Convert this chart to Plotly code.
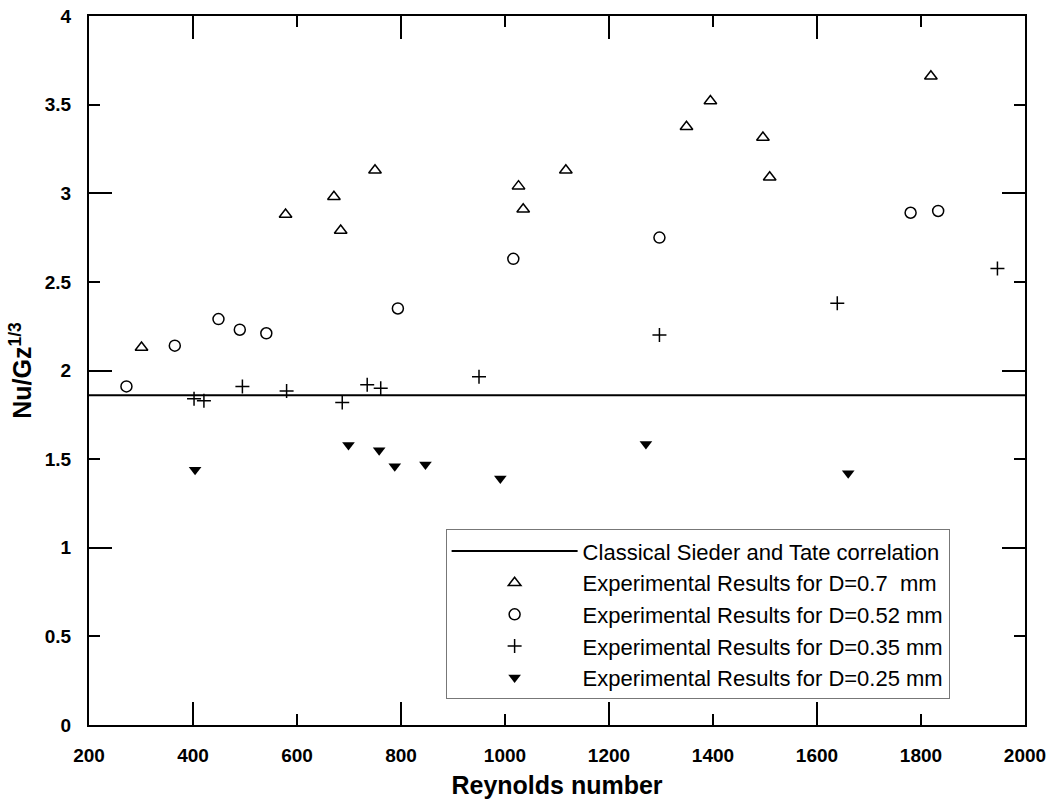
import plotly.graph_objects as go

# ---- data ----
re_line = [200, 2000]
nu_line = [1.86, 1.86]

re_d070 = [301, 578, 671, 684, 750, 1026, 1035, 1117, 1349, 1395, 1496, 1509, 1819]
nu_d070 = [2.13, 2.88, 2.98, 2.79, 3.13, 3.04, 2.91, 3.13, 3.375, 3.52, 3.315, 3.09, 3.66]

re_d052 = [272, 365, 449, 490, 541, 794, 1016, 1297, 1780, 1833]
nu_d052 = [1.91, 2.14, 2.29, 2.23, 2.21, 2.35, 2.63, 2.75, 2.89, 2.90]

re_d035 = [402, 421, 495, 580, 687, 735, 761, 950, 1297, 1639, 1947]
nu_d035 = [1.84, 1.83, 1.91, 1.885, 1.82, 1.92, 1.90, 1.965, 2.20, 2.38, 2.575]

re_d025 = [404, 699, 758, 788, 847, 991, 1271, 1660]
nu_d025 = [1.44, 1.58, 1.55, 1.46, 1.47, 1.39, 1.585, 1.42]

x_ticks = list(range(200, 2001, 200))
y_ticks = [0, 0.5, 1, 1.5, 2, 2.5, 3, 3.5, 4]

FONT = "Liberation Sans, Arial, sans-serif"

fig = go.Figure()
fig.add_trace(go.Scatter(x=re_line, y=nu_line, mode="lines",
                         name="Classical Sieder and Tate correlation",
                         line=dict(color="black", width=2)))
fig.add_trace(go.Scatter(x=re_d070, y=nu_d070, mode="markers",
                         name="Experimental Results for D=0.7  mm",
                         marker=dict(symbol="triangle-up-open", size=11, color="black",
                                     line=dict(width=1.5, color="black"))))
fig.add_trace(go.Scatter(x=re_d052, y=nu_d052, mode="markers",
                         name="Experimental Results for D=0.52 mm",
                         marker=dict(symbol="circle-open", size=11, color="black",
                                     line=dict(width=1.5, color="black"))))
fig.add_trace(go.Scatter(x=re_d035, y=nu_d035, mode="markers",
                         name="Experimental Results for D=0.35 mm",
                         marker=dict(symbol="cross-thin", size=10, color="black",
                                     line=dict(width=1.5, color="black"))))
fig.add_trace(go.Scatter(x=re_d025, y=nu_d025, mode="markers",
                         name="Experimental Results for D=0.25 mm",
                         marker=dict(symbol="triangle-down", size=11, color="black",
                                     line=dict(width=0, color="black"))))

axis_common = dict(showgrid=False, zeroline=False, showline=True, linecolor="black",
                   linewidth=2, ticks="inside", tickcolor="black", tickwidth=2,
                   mirror="ticks", automargin=False)

fig.update_layout(
    width=1052, height=804,
    margin=dict(l=89, r=27, t=16, b=79),
    paper_bgcolor="white", plot_bgcolor="white",
    font=dict(family=FONT, color="black"),
    showlegend=True,
    xaxis=dict(range=[200, 2000], tickvals=x_ticks, ticklen=11,
               tickfont=dict(size=19, family=FONT, weight="bold"),
               ticklabelstandoff=12,
               title=dict(text="Reynolds number", standoff=12,
                          font=dict(size=25, family=FONT, weight="bold")),
               **axis_common),
    yaxis=dict(range=[0, 4], tickvals=y_ticks, ticklen=11,
               tickfont=dict(size=19, family=FONT, weight="bold"),
               ticklabelstandoff=12,
               title=dict(text="Nu/Gz<sup>1/3</sup>", standoff=6,
                          font=dict(size=25, family=FONT, weight="bold")),
               **axis_common),
    xaxis2=dict(overlaying="x", anchor="y", side="bottom", range=[200, 2000],
                tick0=400, dtick=400, ticklen=23, showticklabels=False,
                **axis_common),
    yaxis2=dict(overlaying="y", anchor="x", side="left", range=[0, 4],
                tick0=0, dtick=1, ticklen=23, showticklabels=False,
                **axis_common),
    legend=dict(x=0.381, y=0.276, xanchor="left", yanchor="top",
                bgcolor="white", bordercolor="#777777", borderwidth=1,
                font=dict(size=22, family=FONT), itemwidth=126,
                tracegroupgap=0),
)

# invisible helper trace so the overlay axes (long ticks) are drawn
fig.add_trace(go.Scatter(x=re_line, y=nu_line, xaxis="x2", yaxis="y2", mode="lines",
                         line=dict(width=0), opacity=0, showlegend=False,
                         hoverinfo="skip"))

fig.write_html("out.html")
